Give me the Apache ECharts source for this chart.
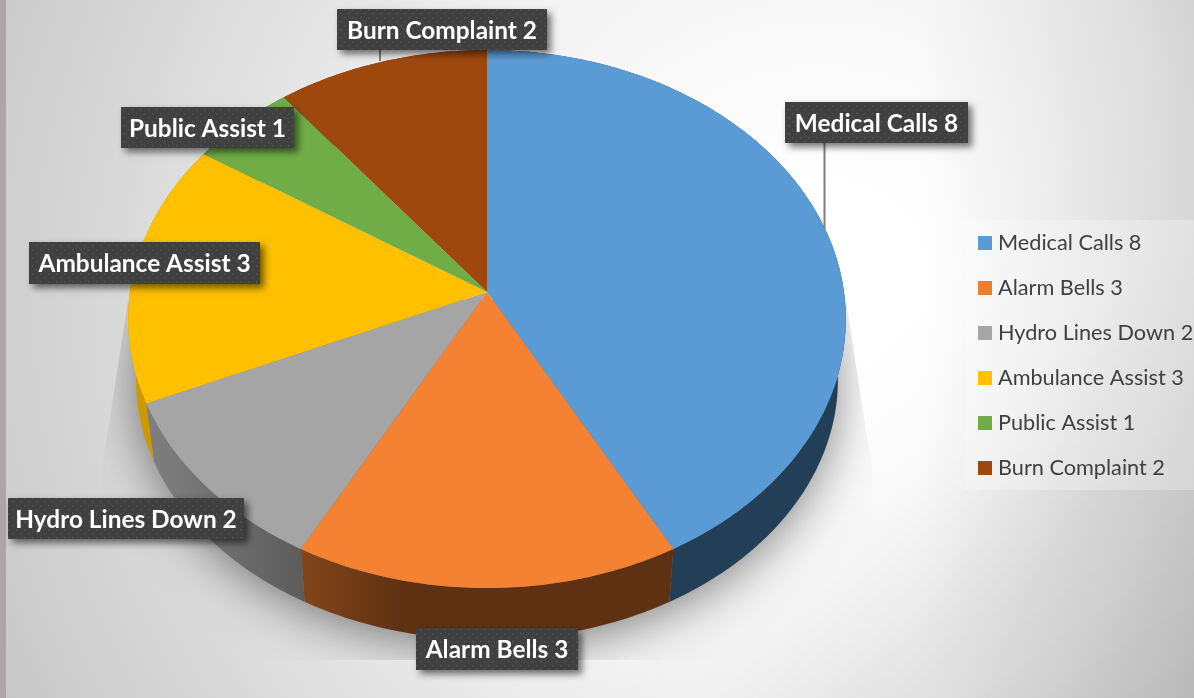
<!DOCTYPE html>
<html><head><meta charset="utf-8">
<style>html,body{margin:0;padding:0;background:#fff}#c{width:1194px;height:698px}</style>
<script src="https://cdn.jsdelivr.net/npm/echarts@6/dist/echarts.min.js"></script>
</head><body><div id="c"></div>
<script>
const categories = ['Medical Calls', 'Alarm Bells', 'Hydro Lines Down', 'Ambulance Assist', 'Public Assist', 'Burn Complaint'];
const values = [8, 3, 2, 3, 1, 2];
const topColors = ['#5b9bd5', '#f48232', '#a5a5a5', '#ffc000', '#70ad47', '#9e480e'];
const legendColors = ['#5b9bd5', '#ed7d31', '#a5a5a5', '#ffc000', '#70ad47', '#9e480e'];
const sideStops = [['#233f58', '#233f58', '#233f58'], ['#84461a', '#5f3113', '#5f3113'], ['#808080', '#767676', '#5c5c5c'], ['#cc9a00', '#cc9a00', '#cc9a00'], ['#5a8a39', '#5a8a39', '#5a8a39'], ['#7e3a0b', '#7e3a0b', '#7e3a0b']];
const labelBoxes = [[785, 102, 183, 41], [416, 628, 162, 42], [8, 498, 236, 41], [29, 242, 231, 42], [121, 107, 173, 41], [337, 9, 210, 41]];
const leaders = [[824.5, 143, 824.5, 229], null, null, null, null, [380, 50, 380, 61]];

const names = categories.map((c, i) => c + ' ' + values[i]);
const total = values.reduce((a, b) => a + b, 0);
const cx = 487, cyTop = 292, cyBot = 353.5, rx = 357, ry = 266.3, k = 0.1004, sxBot = 0.978, syBot = 0.967;

function rim(t, bottom) {
  const X = Math.sin(t), Y = -Math.cos(t), w = 1 - k * Y;
  return bottom ? [cx + sxBot * rx * X / w, cyBot + syBot * ry * Y / w]
                : [cx + rx * X / w, cyTop + ry * Y / w];
}
function arc(a0, a1, bottom) {
  const n = Math.max(2, Math.ceil((a1 - a0) / (Math.PI / 240))), p = [];
  for (let i = 0; i <= n; i++) p.push(rim(a0 + (a1 - a0) * i / n, bottom));
  return p;
}
const dotTile = document.createElement('canvas');
dotTile.width = 8; dotTile.height = 8;
(function () {
  const g = dotTile.getContext('2d');
  g.fillStyle = '#565656';
  g.fillRect(0, 1, 1.4, 1.4); g.fillRect(4, 5, 1.4, 1.4);
})();

function renderSlice(idx) {
  return function (params, api) {
    const val = api.value(0), before = api.value(1);
    const a0 = before / total * 2 * Math.PI, a1 = (before + val) / total * 2 * Math.PI;
    const top = arc(a0, a1, false), bot = arc(a0, a1, true);
    const wall = top.concat(bot.slice().reverse());
    const xs = wall.map(p => p[0]);
    const minX = Math.min.apply(null, xs), maxX = Math.max.apply(null, xs);
    const children = [
      { type: 'polygon', z2: 2 + idx, shape: { points: wall },
        style: { fill: new echarts.graphic.LinearGradient(minX, 0, maxX, 0, [
          { offset: 0, color: sideStops[idx][0] }, { offset: 0.27, color: sideStops[idx][1] }, { offset: 1, color: sideStops[idx][2] }], true) } },
      { type: 'polygon', z2: 20, shape: { points: [[cx, cyTop]].concat(top) },
        style: { fill: topColors[idx] } }
    ];
    const b = labelBoxes[idx], l = leaders[idx];
    if (l) children.push({ type: 'line', z2: 30, shape: { x1: l[0], y1: l[1], x2: l[2], y2: l[3] },
      style: { stroke: '#7f7f7f', lineWidth: 2 } });
    children.push(
      { type: 'rect', z2: 40, shape: { x: b[0], y: b[1], width: b[2], height: b[3] },
        style: { fill: '#404040', shadowBlur: 7, shadowOffsetX: 4, shadowOffsetY: 4, shadowColor: 'rgba(0,0,0,0.55)' } },
      { type: 'rect', z2: 41, shape: { x: b[0], y: b[1], width: b[2], height: b[3] },
        style: { fill: { image: dotTile, repeat: 'repeat' } } },
      { type: 'text', z2: 42, style: { x: b[0] + b[2] / 2, y: b[1] + b[3] / 2 + 1.5, text: names[idx],
        fill: '#ffffff', font: 'bold 24.4px Lato', align: 'center', verticalAlign: 'middle' } }
    );
    return { type: 'group', children };
  };
}
function renderShadow() {
  const whole = arc(0, 2 * Math.PI, true).map(p => [cx + (p[0] - cx) * 0.99, p[1] - 2]);
  return { type: 'polygon', z2: 0, shape: { points: whole },
    clipPath: { type: 'polygon', shape: { points: [[128, 300], [846, 300], [872, 470], [880, 660], [95, 660], [102, 470]] } },
    style: { fill: '#777', shadowBlur: 54, shadowOffsetY: 6, shadowColor: 'rgba(0,0,0,0.55)' } };
}
const W = 1194, H = 698;
let run = 0;
const series = [{ type: 'custom', name: '_shadow', silent: true, z: 1, data: [[0]], renderItem: renderShadow, coordinateSystem: 'none' }];
categories.forEach((c, i) => {
  series.push({ type: 'custom', name: names[i], z: 2, coordinateSystem: 'none', silent: true,
    data: [[values[i], run]], renderItem: renderSlice(i), itemStyle: { color: legendColors[i] } });
  run += values[i];
});
const chart = echarts.init(document.getElementById('c'), null, { renderer: 'canvas' });
chart.setOption({
  animation: false,
  color: legendColors,
  tooltip: { show: false },
  graphic: [
    { type: 'rect', z: -10, silent: true, shape: { x: 0, y: 0, width: W, height: H },
      style: { fill: new echarts.graphic.RadialGradient(820, 300, 900, [
        { offset: 0, color: '#ffffff' }, { offset: 0.12, color: '#ffffff' }, { offset: 0.46, color: '#f3f3f3' },
        { offset: 0.68, color: '#e1e1e1' }, { offset: 1, color: '#c8c8c8' }], true) } },
    { type: 'rect', z: -9, silent: true, shape: { x: 0, y: 0, width: W, height: H },
      style: { fill: new echarts.graphic.LinearGradient(920, 0, 1194, 0, [
        { offset: 0, color: 'rgba(0,0,0,0)' }, { offset: 1, color: 'rgba(0,0,0,0.11)' }], true) } },
    { type: 'rect', z: -9, silent: true, shape: { x: 0, y: 0, width: W, height: H },
      style: { fill: new echarts.graphic.LinearGradient(880, 320, 1220, 660, [
        { offset: 0, color: 'rgba(0,0,0,0)' }, { offset: 0.3, color: 'rgba(0,0,0,0.01)' },
        { offset: 0.6, color: 'rgba(0,0,0,0.07)' }, { offset: 1, color: 'rgba(0,0,0,0.1)' }], true) } },
    { type: 'rect', z: -8, silent: true, shape: { x: 0, y: 0, width: 6, height: H }, style: { fill: '#aba7a7' } },
    { type: 'rect', z: -7, silent: true, shape: { x: 965, y: 220, width: 229, height: 270 }, style: { fill: 'rgba(255,255,255,0.28)' } }
  ],
  legend: {
    data: names, orient: 'vertical', left: 978, top: 232, padding: 0, itemWidth: 14, itemHeight: 14, itemGap: 23,
    icon: 'rect', selectedMode: false,
    textStyle: { color: '#404040', fontFamily: 'Lato', fontSize: 21.7, padding: [0, 0, 0, 1] }
  },
  series
});
</script></body></html>
